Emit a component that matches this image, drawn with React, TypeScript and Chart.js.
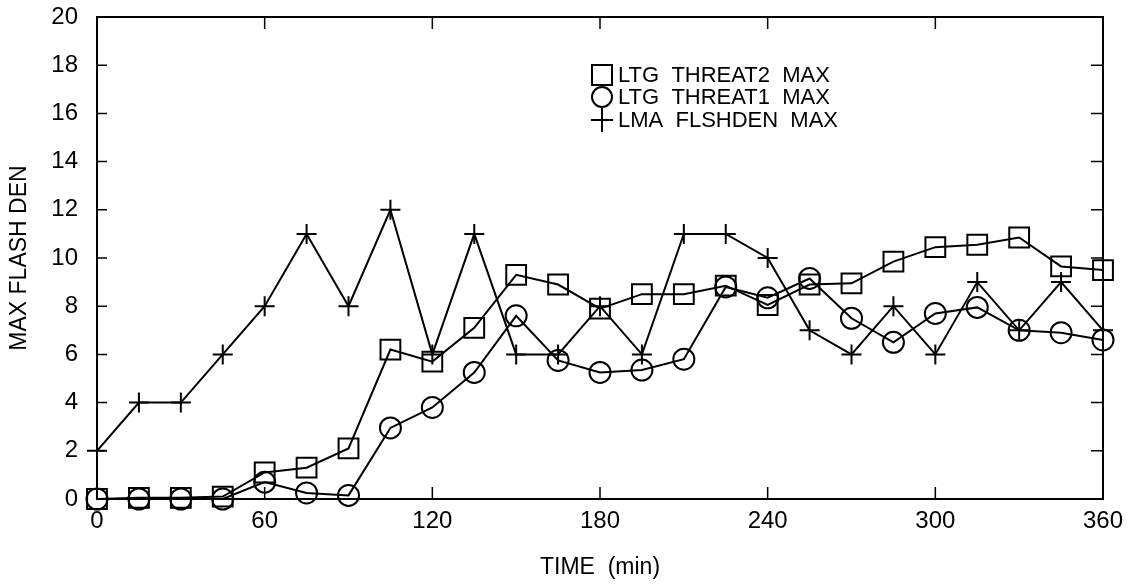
import React, { useEffect, useRef } from 'react';
import { Chart, registerables } from 'chart.js';

Chart.register(...registerables);

const times = [0, 15, 30, 45, 60, 75, 90, 105, 120, 135, 150, 165, 180, 195, 210, 225, 240, 255, 270, 285, 300, 315, 330, 345, 360];
const threat2Max = [0, 0.05, 0.05, 0.1, 1.1, 1.3, 2.1, 6.2, 5.7, 7.1, 9.3, 8.9, 7.9, 8.5, 8.5, 8.85, 8.05, 8.9, 8.95, 9.85, 10.45, 10.55, 10.85, 9.65, 9.5];
const threat1Max = [0, 0, 0, 0, 0.7, 0.25, 0.15, 2.95, 3.8, 5.25, 7.6, 5.75, 5.25, 5.35, 5.8, 8.8, 8.35, 9.15, 7.5, 6.5, 7.7, 7.95, 7.0, 6.9, 6.6];
const lmaFlshdenMax = [2, 4, 4, 6, 8, 11, 8, 12, 6, 11, 6, 6, 8, 6, 11, 11, 10, 7, 6, 8, 6, 9, 7, 9, 7];

const xTicks = [0, 60, 120, 180, 240, 300, 360];
const yTicks = [0, 2, 4, 6, 8, 10, 12, 14, 16, 18, 20];
const seriesLabels = ['LTG  THREAT2  MAX', 'LTG  THREAT1  MAX', 'LMA  FLSHDEN  MAX'];
const seriesStyles = ['rect', 'circle', 'cross'];
const xTitle = 'TIME  (min)';
const yTitle = 'MAX FLASH DEN';

const FONT = '"Liberation Sans", Arial, Helvetica, sans-serif';

const framePlugin = {
  id: 'frameTicks',
  beforeDatasetsDraw(chart: any) {
    const { ctx, chartArea, scales } = chart;
    const { left, right, top, bottom } = chartArea;
    const x = scales.x;
    const y = scales.y;
    ctx.save();
    ctx.strokeStyle = '#000';
    ctx.lineWidth = 2;
    ctx.strokeRect(left, top, right - left, bottom - top);
    ctx.lineWidth = 1.5;
    ctx.beginPath();
    yTicks.forEach((v) => {
      if (v === yTicks[0] || v === yTicks[yTicks.length - 1]) return;
      const py = y.getPixelForValue(v);
      ctx.moveTo(left, py);
      ctx.lineTo(left + 10, py);
      ctx.moveTo(right, py);
      ctx.lineTo(right - 12, py);
    });
    xTicks.forEach((v) => {
      if (v === xTicks[0] || v === xTicks[xTicks.length - 1]) return;
      const px = x.getPixelForValue(v);
      ctx.moveTo(px, bottom);
      ctx.lineTo(px, bottom - 12);
      ctx.moveTo(px, top);
      ctx.lineTo(px, top + 12);
    });
    ctx.stroke();
    ctx.restore();
  },
};

const legendPlugin = {
  id: 'insideLegend',
  afterDraw(chart: any) {
    const { ctx } = chart;
    const mx = 602;
    const rows = [75, 97, 120];
    ctx.save();
    ctx.strokeStyle = '#000';
    ctx.fillStyle = '#000';
    ctx.lineWidth = 2;
    ctx.font = `22px ${FONT}`;
    ctx.textBaseline = 'middle';
    ctx.textAlign = 'left';
    seriesLabels.forEach((label, i) => {
      const cy = rows[i];
      ctx.beginPath();
      if (seriesStyles[i] === 'rect') {
        ctx.rect(mx - 10, cy - 10, 20, 20);
      } else if (seriesStyles[i] === 'circle') {
        ctx.arc(mx, cy, 10, 0, Math.PI * 2);
      } else {
        ctx.moveTo(mx - 11, cy);
        ctx.lineTo(mx + 11, cy);
        ctx.moveTo(mx, cy - 12);
        ctx.lineTo(mx, cy + 12);
      }
      ctx.stroke();
      ctx.fillText(label, 618, cy + 1);
    });
    ctx.restore();
  },
};

function toPoints(vals: number[]) {
  return times.map((t, i) => ({ x: t, y: vals[i] }));
}

export default function App() {
  const canvasRef = useRef<HTMLCanvasElement | null>(null);

  useEffect(() => {
    document.body.style.margin = '0';
    const canvas = canvasRef.current;
    if (!canvas) return;
    Chart.defaults.color = '#000';
    const common = {
      borderColor: '#000',
      borderWidth: 2,
      backgroundColor: 'rgba(0,0,0,0)',
      pointBackgroundColor: 'rgba(0,0,0,0)',
      pointBorderColor: '#000',
      pointBorderWidth: 2,
      tension: 0,
      clip: false as any,
    };
    const chart = new Chart(canvas, {
      type: 'line',
      data: {
        datasets: [
          { ...common, label: seriesLabels[0], data: toPoints(threat2Max), pointStyle: 'rect', pointRadius: 14 },
          { ...common, label: seriesLabels[1], data: toPoints(threat1Max), pointStyle: 'circle', pointRadius: 10.5 },
          { ...common, label: seriesLabels[2], data: toPoints(lmaFlshdenMax), pointStyle: 'cross', pointRadius: 10 },
        ],
      },
      options: {
        animation: false,
        responsive: true,
        maintainAspectRatio: false,
        layout: { padding: { left: 0, right: 32, top: 17, bottom: 0 } },
        plugins: {
          legend: { display: false },
          tooltip: { enabled: false },
        },
        scales: {
          x: {
            type: 'linear',
            min: 0,
            max: 360,
            afterBuildTicks: (scale: any) => {
              scale.ticks = xTicks.map((v) => ({ value: v }));
            },
            ticks: { padding: 8, font: { family: FONT, size: 24 }, color: '#000', maxRotation: 0, autoSkip: false },
            grid: { display: false, drawTicks: false },
            border: { display: false },
            title: { display: true, text: xTitle, font: { family: FONT, size: 23 }, color: '#000', padding: { top: 0, bottom: 6 } },
            afterFit: (scale: any) => {
              scale.height = 88;
              scale.paddingLeft = 0;
              scale.paddingRight = 0;
            },
          },
          y: {
            type: 'linear',
            min: 0,
            max: 20,
            afterBuildTicks: (scale: any) => {
              scale.ticks = yTicks.map((v) => ({ value: v }));
            },
            ticks: { padding: 19, font: { family: FONT, size: 24 }, color: '#000', autoSkip: false },
            grid: { display: false, drawTicks: false },
            border: { display: false },
            title: { display: true, text: yTitle, font: { family: FONT, size: 23 }, color: '#000', padding: { top: 6, bottom: 0 } },
            afterFit: (scale: any) => {
              scale.width = 97;
              scale.paddingTop = 0;
              scale.paddingBottom = 0;
            },
          },
        },
      },
      plugins: [framePlugin, legendPlugin],
    });
    return () => chart.destroy();
  }, []);

  return (
    <div style={{ width: '1135px', height: '587px', position: 'relative', background: '#fff' }}>
      <canvas ref={canvasRef} />
    </div>
  );
}
